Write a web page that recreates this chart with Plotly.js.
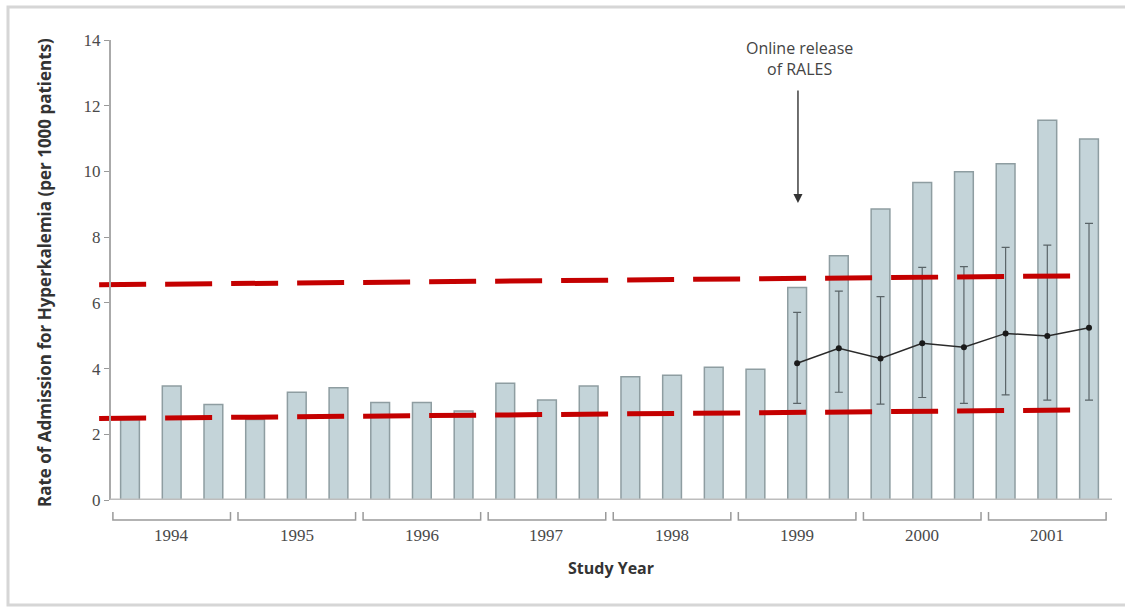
<!DOCTYPE html>
<html>
<head>
<meta charset="utf-8">
<script src="https://cdn.plot.ly/plotly-3.0.1.min.js"></script>
<style>
  html, body { margin: 0; padding: 0; background: #ffffff; }
  #chart { width: 1125px; height: 607px; }
</style>
</head>
<body>
<div id="chart"></div>
<script>
// ---- data ----
const years = ['1994', '1995', '1996', '1997', '1998', '1999', '2000', '2001'];
const periodsPerYear = 3;
const admissionRate = [
  2.45, 3.47, 2.91,
  2.45, 3.28, 3.42,
  2.97, 2.97, 2.71,
  3.55, 3.04, 3.47,
  3.75, 3.80, 4.04,
  3.98, 6.47, 7.43,
  8.86, 9.66, 9.99,
  10.23, 11.56, 10.99
];
// expected rate (post-RALES) with confidence interval
const expectedIndex = [16, 17, 18, 19, 20, 21, 22, 23];
const expectedRate = [4.16, 4.62, 4.31, 4.77, 4.65, 5.07, 4.99, 5.24];
const expectedUpper = [5.71, 6.36, 6.19, 7.08, 7.10, 7.69, 7.76, 8.42];
const expectedLower = [2.94, 3.28, 2.92, 3.12, 2.94, 3.20, 3.04, 3.04];
// red dashed trend lines (start, end)
const trendX = [-0.74, 22.57];
const upperTrend = [6.55, 6.82];
const lowerTrend = [2.48, 2.74];
const yTicks = [0, 2, 4, 6, 8, 10, 12, 14];
const annotationText = 'Online release<br>of RALES';
const annotationIndex = 16;

// ---- layout geometry (pixels) ----
const W = 1125, H = 607;
const M = {l: 95, r: 13, t: 40, b: 107};
const plotW = W - M.l - M.r, plotH = H - M.t - M.b;
const px = x => (x - M.l) / plotW;          // pixel x -> paper x
const py = y => (H - M.b - y) / plotH;       // pixel y -> paper y

const idx = admissionRate.map((_, i) => i);
const gray = '#9a9a9a';
const sans = 'Open Sans, Noto Sans, sans-serif';
const serif = 'Liberation Serif, DejaVu Serif, serif';

const traces = [
  {
    type: 'bar', x: idx, y: admissionRate, width: 0.45,
    marker: {color: '#c4d4d9', line: {color: '#8e9da1', width: 1.5}},
    hoverinfo: 'y', showlegend: false
  },
  {
    type: 'scatter', mode: 'lines+markers', x: expectedIndex, y: expectedRate,
    line: {color: '#2a2a2a', width: 1.5},
    marker: {color: '#1a1a1a', size: 6},
    error_y: {
      type: 'data', symmetric: false,
      array: expectedUpper.map((u, i) => u - expectedRate[i]),
      arrayminus: expectedRate.map((v, i) => v - expectedLower[i]),
      color: '#5a6468', thickness: 1.2, width: 4
    },
    showlegend: false
  },
  {
    type: 'scatter', mode: 'lines', x: trendX, y: upperTrend,
    line: {color: '#c40000', width: 5, dash: '47px,19px'},
    showlegend: false, hoverinfo: 'skip'
  },
  {
    type: 'scatter', mode: 'lines', x: trendX, y: lowerTrend,
    line: {color: '#c40000', width: 5, dash: '47px,19px'},
    showlegend: false, hoverinfo: 'skip'
  }
];

// year brackets under the axis
const shapes = [];
const annotations = [];
years.forEach((yr, k) => {
  const mid = k * periodsPerYear + 1;
  const x0 = mid - 1.41, x1 = mid + 1.41;
  shapes.push({type: 'path', xref: 'x', yref: 'paper',
    path: `M ${x0} ${py(512)} L ${x0} ${py(520)} L ${x1} ${py(520)} L ${x1} ${py(512)}`,
    line: {color: gray, width: 1.5}});
  annotations.push({xref: 'x', yref: 'paper', x: mid, y: py(535), text: yr,
    showarrow: false, yanchor: 'middle',
    font: {family: serif, size: 17, color: '#4a4a4a'}});
});

// baseline (thick grey x-axis line)
shapes.push({type: 'line', xref: 'paper', yref: 'y', x0: px(110), x1: px(1112), y0: 0, y1: 0,
  line: {color: '#bdbdbd', width: 3}});
// outer frame
shapes.push({type: 'path', xref: 'paper', yref: 'paper',
  path: `M ${px(1130)} ${py(7)} L ${px(8)} ${py(7)} L ${px(8)} ${py(605)} L ${px(1130)} ${py(605)}`,
  line: {color: '#d6d6d6', width: 3}});

// x title
annotations.push({xref: 'paper', yref: 'paper', x: px(611), y: py(568), yanchor: 'middle',
  text: '<b>Study Year</b>', showarrow: false,
  font: {family: sans, size: 16, color: '#333'}});
// y title
annotations.push({xref: 'paper', yref: 'paper', x: px(44), y: py(273), xanchor: 'center', yanchor: 'middle',
  text: '<b>Rate of Admission for Hyperkalemia (per 1000 patients)</b>',
  showarrow: false, textangle: -90,
  font: {family: sans, size: 17, color: '#333'}});
// RALES annotation with arrow
annotations.push({xref: 'x', yref: 'paper', x: annotationIndex + 0.02, y: py(203),
  ax: 0, ay: -(203 - 89), axref: 'pixel', ayref: 'pixel',
  showarrow: true, arrowhead: 2, arrowsize: 1.3, arrowwidth: 1.4, arrowcolor: '#333',
  text: '', standoff: 0});
annotations.push({xref: 'x', yref: 'paper', x: annotationIndex + 0.05, y: py(58), yanchor: 'middle',
  text: annotationText, showarrow: false, align: 'center',
  font: {family: sans, size: 16, color: '#444'}});

const layout = {
  width: W, height: H,
  margin: M,
  paper_bgcolor: '#ffffff', plot_bgcolor: '#ffffff',
  showlegend: false,
  bargap: 0,
  xaxis: {
    range: [(M.l - 130) / 41.696, (W - M.r - 130) / 41.696],
    showgrid: false, zeroline: false, showline: false, showticklabels: false, ticks: ''
  },
  yaxis: {
    range: [0, 14], anchor: 'free', position: px(110),
    tickvals: yTicks, ticktext: yTicks.map(String),
    showgrid: false, zeroline: false,
    showline: true, linecolor: '#aaaaaa', linewidth: 2,
    ticks: 'outside', ticklen: 5, tickwidth: 1, tickcolor: '#999',
    tickfont: {family: serif, size: 17, color: '#4a4a4a'}
  },
  shapes: shapes,
  annotations: annotations
};

Plotly.newPlot('chart', traces, layout, {displayModeBar: false, staticPlot: true});
</script>
</body>
</html>
